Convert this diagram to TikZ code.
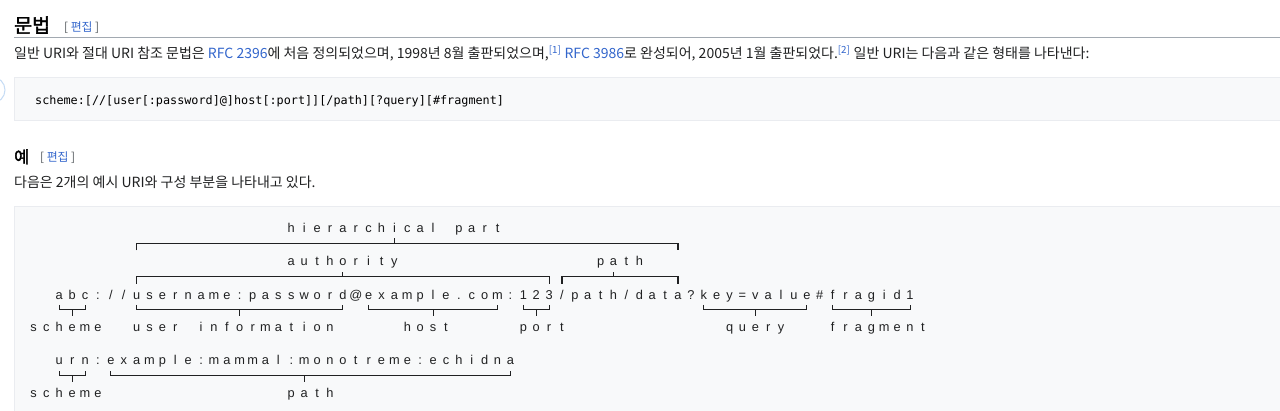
\documentclass[tikz,border=0pt]{standalone}
\usepackage{fontspec}
\setmainfont{Noto Sans CJK KR}[AutoFakeBold=2]
\newfontfamily\kr{Noto Sans CJK KR}[AutoFakeBold=2]
\newfontfamily\codefont{DejaVu Sans Mono}
\newfontfamily\diafont{Liberation Sans}
\definecolor{txt}{HTML}{202122}
\definecolor{link}{HTML}{3366CC}
\definecolor{greyb}{HTML}{54595D}
\definecolor{rulec}{HTML}{A2A9B1}
\definecolor{boxbg}{HTML}{F8F9FA}
\definecolor{boxbd}{HTML}{EAECF0}
\definecolor{ringc}{HTML}{C6DCF5}

\tikzset{
  ch/.style={anchor=base, inner sep=0pt, text=txt, font=\diafont\fontsize{12.8}{14}\selectfont},
  br/.style={draw=txt, line width=1.05pt},
  para/.style={anchor=base west, inner sep=0pt, text=txt, font=\kr\fontsize{14}{16}\selectfont},
  edit/.style={anchor=base west, inner sep=0pt, text=greyb, font=\kr\fontsize{11.8}{13}\selectfont},
  codebox/.style={fill=boxbg, draw=boxbd, line width=1pt},
}

\ExplSyntaxOn
\int_new:N \l_mono_col_int
\tl_new:N \l_mono_x_tl
\NewDocumentCommand\monorow{mmmm}
 {
  \int_set:Nn \l_mono_col_int {#3}
  \tl_map_inline:nn {#4}
   {
    \tl_set:Nx \l_mono_x_tl { \fp_eval:n { 33.5 + 12.89 * \l_mono_col_int } }
    \node[ch]~(c-#1-\int_use:N \l_mono_col_int)~at~(\l_mono_x_tl,#2)~{##1};
    \int_incr:N \l_mono_col_int
   }
 }
\ExplSyntaxOff

\newcommand\underbr[4]{%
  \draw[br] ({33.5+12.89*#2},#1-4.5) -- ({33.5+12.89*#2},#1) -- ({33.5+12.89*#3},#1) -- ({33.5+12.89*#3},#1-4.5);
  \draw[br] ({33.5+12.89*#4},#1) -- ({33.5+12.89*#4},#1+6.5);}
\newcommand\overbr[4]{%
  \draw[br] ({33.5+12.89*#2},#1+7) -- ({33.5+12.89*#2},#1) -- ({33.5+12.89*#3},#1) -- ({33.5+12.89*#3},#1+7);
  \draw[br] ({33.5+12.89*#4},#1) -- ({33.5+12.89*#4},#1-5);}

\begin{document}
\begin{tikzpicture}[x=1pt,y=-1pt]
\useasboundingbox (0,0) rectangle (1280,411);
\fill[white] (0,0) rectangle (1280,411);

% heading 1
\node[anchor=base west, inner sep=0pt, text=black, font=\kr\bfseries\fontsize{19.5}{21}\selectfont] (h1) at (14,32.5) {문법};
\node[edit] (e1) at (64,31.5) {[ \textcolor{link}{편집} ]};
\draw[rulec, line width=1pt] (14,37.5) -- (1280,37.5);

% paragraph
\node[para] (p1) at (14,58.5) {일반 URI와 절대 URI 참조 문법은 \textcolor{link}{RFC 2396}에 처음 정의되었으며, 1998년 8월 출판되었으며,\textsuperscript{\textcolor{link}{[1]}} \textcolor{link}{RFC 3986}로 완성되어, 2005년 1월 출판되었다.\textsuperscript{\textcolor{link}{[2]}} 일반 URI는 다음과 같은 형태를 나타낸다:};

% ring at left edge
\draw[ringc, line width=1pt] (-8,90) circle (13);

% code box
\draw[codebox] (14,78) rectangle (1282,121);
\node[anchor=base west, inner sep=0pt, text=black, font=\codefont\fontsize{11.8}{14}\selectfont] (code) at (35,104.5) {scheme:[//[user[:password]@]host[:port]][/path][?query][\#fragment]};

% heading 2
\node[anchor=base west, inner sep=0pt, text=black, font=\kr\bfseries\fontsize{16.5}{18}\selectfont] (h2) at (14,163) {예};
\node[edit] (e2) at (40,161.5) {[ \textcolor{link}{편집} ]};
\node[para] (p2) at (14,188) {다음은 2개의 예시 URI와 구성 부분을 나타내고 있다.};

% example box
\draw[codebox] (14,207) rectangle (1282,413);

% rows of text
\monorow{hier}{232.7}{20}{hierarchical~part}
\monorow{auth}{266}{20}{authority}
\monorow{auth}{266}{44}{path}
\monorow{uri}{299.5}{2}{abc://username:password@example.com:123/path/data?key=value\#fragid1}
\monorow{lab}{331.5}{0}{scheme}
\monorow{lab}{331.5}{8}{user~information}
\monorow{lab}{331.5}{29}{host}
\monorow{lab}{331.5}{38}{port}
\monorow{lab}{331.5}{54}{query}
\monorow{lab}{331.5}{62}{fragment}
\monorow{urn}{365}{2}{urn:example:mammal:monotreme:echidna}
\monorow{labb}{398}{0}{scheme}
\monorow{labb}{398}{20}{path}

% brackets
\overbr{243.3}{8}{50}{28}
\overbr{276.7}{8}{40}{24}
\overbr{276.7}{41}{50}{45}
\underbr{309.5}{2}{4}{3}
\underbr{309.5}{8}{24}{16}
\underbr{309.5}{26}{36}{31}
\underbr{309.5}{38}{40}{39}
\underbr{309.5}{52}{60}{56}
\underbr{309.5}{62}{68}{65}
\underbr{375.7}{2}{4}{3}
\underbr{375.7}{6}{37}{21}
\end{tikzpicture}
\end{document}
